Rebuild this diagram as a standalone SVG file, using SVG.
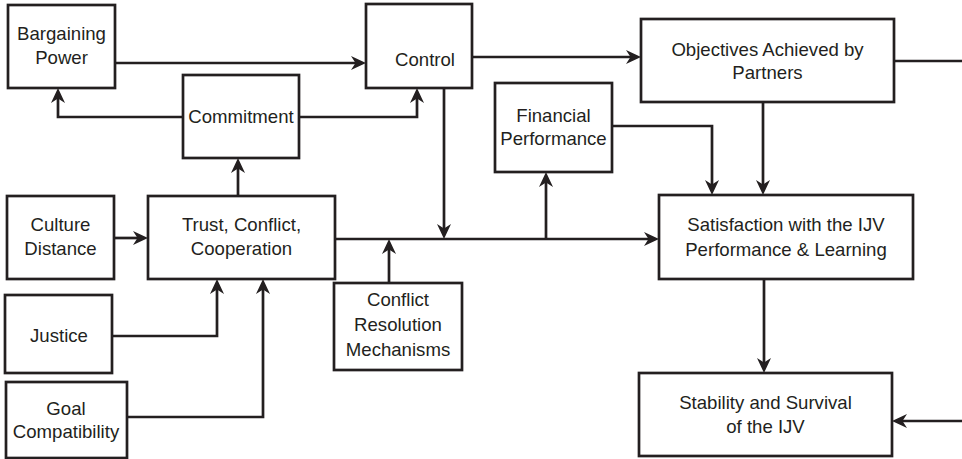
<svg xmlns="http://www.w3.org/2000/svg" width="962" height="459" viewBox="0 0 962 459">
<style>
.box{fill:#fff;stroke:#231f20;stroke-width:2.7}
.ln{fill:none;stroke:#231f20;stroke-width:2.7}
.arr{marker-end:url(#ah)}
text{font-family:"Liberation Sans",Arial,sans-serif;font-size:18.6px;fill:#231f20;text-anchor:middle}
</style>
<defs>
<marker id="ah" markerUnits="userSpaceOnUse" viewBox="0 0 15 15" markerWidth="15" markerHeight="15" refX="10" refY="7.5" orient="auto">
<path d="M0,0.5 L15,7.5 L0,14.5 L4.5,7.5 z" fill="#231f20"/>
</marker>
</defs>
<rect width="962" height="459" fill="#fff"/>
<g id="connectors">
<path class="ln arr" d="M115,63 H361"/>
<path class="ln arr" d="M183,117 H58 V93"/>
<path class="ln arr" d="M299,117 H417 V93"/>
<path class="ln arr" d="M238,196 V163"/>
<path class="ln arr" d="M472,57 H636"/>
<path class="ln" d="M894,61 H962"/>
<path class="ln arr" d="M444,88 V234"/>
<path class="ln arr" d="M114,238 H143"/>
<path class="ln arr" d="M335,239 H654"/>
<path class="ln arr" d="M389,283 V244"/>
<path class="ln arr" d="M112,336 H217 V284"/>
<path class="ln arr" d="M127,417 H263 V284"/>
<path class="ln arr" d="M546,239 V177"/>
<path class="ln arr" d="M612,126 H712 V190"/>
<path class="ln arr" d="M763,102 V190"/>
<path class="ln arr" d="M764,279 V368"/>
<path class="ln arr" d="M962,421 H897"/>
</g>
<g id="bargaining-power"><rect class="box" x="8" y="5" width="107" height="83"/><text x="61.5" y="40">Bargaining</text><text x="61.5" y="64">Power</text></g>
<g id="control"><rect class="box" x="366" y="4" width="106" height="84"/><text x="425" y="66">Control</text></g>
<g id="commitment"><rect class="box" x="183" y="75" width="116" height="83"/><text x="241" y="123">Commitment</text></g>
<g id="objectives"><rect class="box" x="641" y="19" width="253" height="83"/><text x="767.5" y="56">Objectives Achieved by</text><text x="767.5" y="79">Partners</text></g>
<g id="financial-performance"><rect class="box" x="495" y="83" width="117" height="89"/><text x="553.5" y="122">Financial</text><text x="553.5" y="145">Performance</text></g>
<g id="culture-distance"><rect class="box" x="7" y="196" width="107" height="83"/><text x="60.5" y="231">Culture</text><text x="60.5" y="255">Distance</text></g>
<g id="trust"><rect class="box" x="148" y="196" width="187" height="83"/><text x="241.5" y="231">Trust, Conflict,</text><text x="241.5" y="255">Cooperation</text></g>
<g id="satisfaction"><rect class="box" x="659" y="195" width="254" height="84"/><text x="786" y="231">Satisfaction with the IJV</text><text x="786" y="256">Performance &amp; Learning</text></g>
<g id="justice"><rect class="box" x="5" y="295" width="107" height="78"/><text x="59" y="342">Justice</text></g>
<g id="conflict-resolution"><rect class="box" x="334" y="283" width="128" height="87"/><text x="398" y="306">Conflict</text><text x="398" y="331">Resolution</text><text x="398" y="356">Mechanisms</text></g>
<g id="goal-compatibility"><rect class="box" x="6" y="382" width="121" height="76"/><text x="66" y="415">Goal</text><text x="66" y="438">Compatibility</text></g>
<g id="stability"><rect class="box" x="639" y="373" width="253" height="83"/><text x="765.5" y="409">Stability and Survival</text><text x="765.5" y="433">of the IJV</text></g>
</svg>
